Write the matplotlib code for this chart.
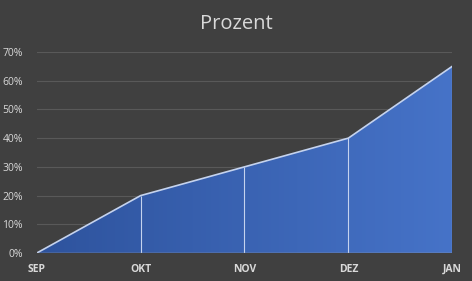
import numpy as np
import matplotlib
matplotlib.use('Agg')
import matplotlib.pyplot as plt
from matplotlib.patches import Polygon

months = ['SEP', 'OKT', 'NOV', 'DEZ', 'JAN']
prozent = [0.0, 0.20, 0.30, 0.40, 0.65]
y_ticks = [0.0, 0.1, 0.2, 0.3, 0.4, 0.5, 0.6, 0.7]

bg = '#404040'
txt = '#d9d9d9'

plt.rcParams['font.family'] = ['Open Sans', 'DejaVu Sans']

fig = plt.figure(figsize=(4.72, 2.81), dpi=100, facecolor=bg)
ax = fig.add_axes([0.078, 0.0996, 0.88, 0.7154], facecolor=bg)

x = np.arange(len(months))
ax.set_xlim(0, len(months) - 1)
ax.set_ylim(0, 0.7)

# horizontal gradient clipped to the area
grad = np.linspace(0, 1, 256).reshape(1, -1)
cmap = matplotlib.colors.LinearSegmentedColormap.from_list('b', ['#2e539d', '#4673c8'])
im = ax.imshow(grad, extent=[0, len(months) - 1, 0, 0.7], aspect='auto',
               cmap=cmap, origin='lower', zorder=2)
poly = Polygon(list(zip(x, prozent)) + [(x[-1], 0), (0, 0)], closed=True,
               transform=ax.transData, facecolor='none', edgecolor='none')
ax.add_patch(poly)
im.set_clip_path(poly)

ax.plot(x, prozent, color='#c5d3ee', lw=1.2, zorder=4)
ax.vlines(x[1:], 0, prozent[1:], color='#c5d3ee', lw=0.8, zorder=4)

ax.set_yticks(y_ticks)
ax.set_yticklabels([f'{int(round(v * 100))}%' for v in y_ticks])
ax.set_xticks(x)
ax.set_xticklabels(months, fontweight='bold')
ax.grid(axis='y', color='#595959', lw=0.8, zorder=1)
ax.set_axisbelow(True)
for s in ax.spines.values():
    s.set_visible(False)
ax.axhline(0, color='#a6a6a6', lw=1, zorder=5)
ax.tick_params(axis='both', length=0, colors=txt, labelsize=7.5)
ax.tick_params(axis='x', pad=8)
ax.tick_params(axis='y', pad=10)

fig.text(0.5, 0.915, 'Prozent', ha='center', va='center', color=txt, fontsize=14.5)

fig.savefig('out.png', facecolor=bg)
